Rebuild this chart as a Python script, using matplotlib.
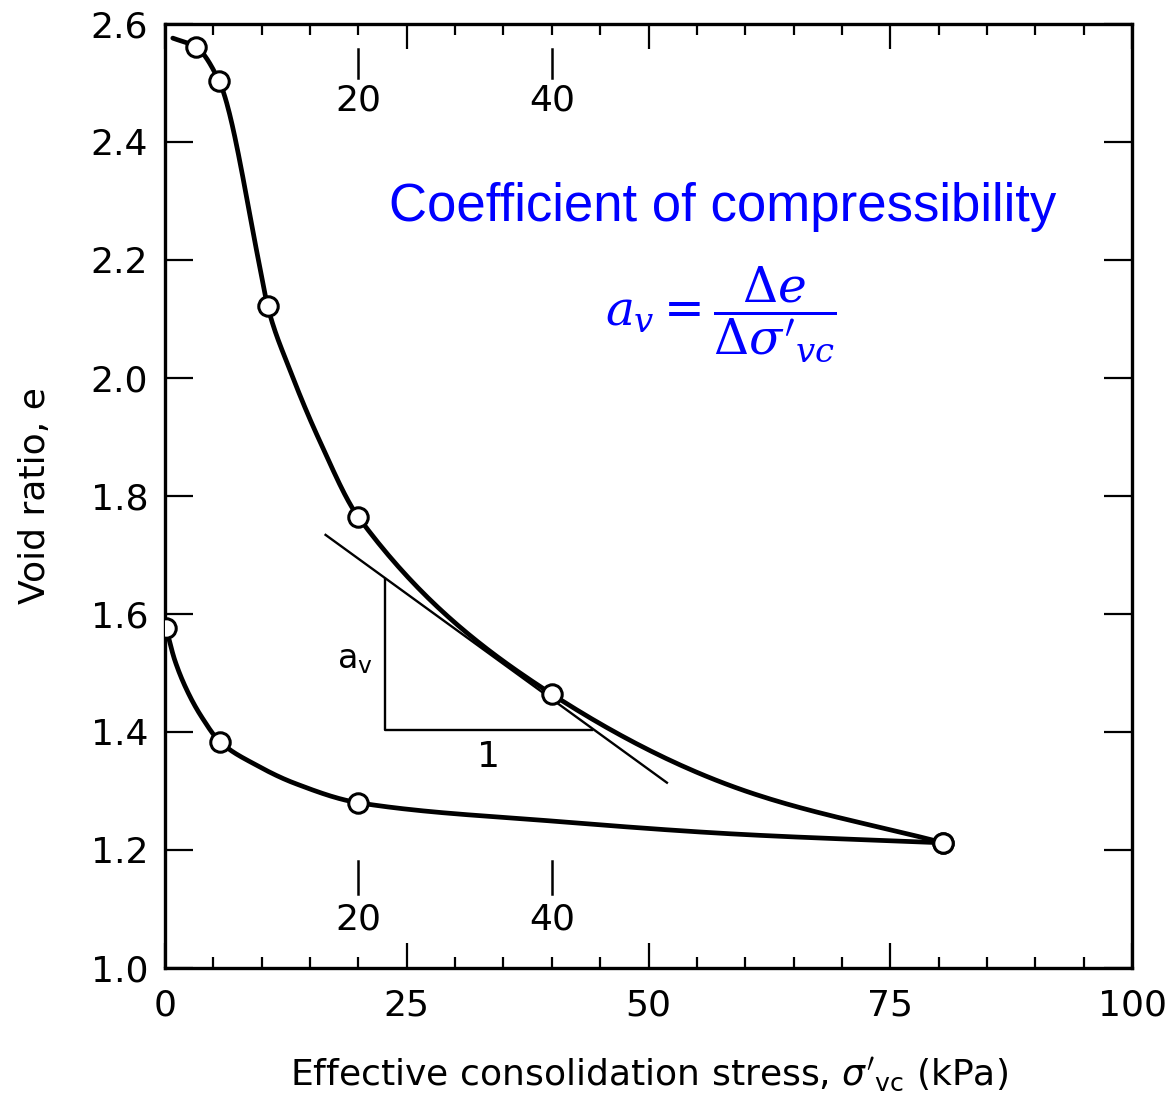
import numpy as np
import matplotlib.pyplot as plt

# ---------- data ----------
# measured points (open circles)
load_x = [3.2, 5.6, 10.6, 20.0, 40.0, 80.5]
load_e = [2.561, 2.503, 2.122, 1.764, 1.464, 1.212]
unload_x = [80.5, 20.0, 5.7, 0.1]
unload_e = [1.212, 1.280, 1.383, 1.577]

# hand-drawn curves traced through the points
load_trace_x = [0.8, 3.2, 5.6, 6.2, 9.8, 10.6, 13.0, 16.0, 20.0, 40.0, 60.0, 80.5]
load_trace_e = [2.576, 2.561, 2.503, 2.476, 2.188, 2.122, 2.010, 1.893, 1.764,
                1.464, 1.300, 1.212]
unload_trace_x = [0.1, 1.0, 2.4, 3.8, 5.7, 9.3, 13.4, 20.0, 40.0, 60.0, 80.5]
unload_trace_e = [1.577, 1.522, 1.466, 1.425, 1.383, 1.345, 1.313, 1.280,
                  1.249, 1.226, 1.212]

# tangent line at 40 kPa
tangent_x = [16.6, 51.9]
tangent_e = [1.734, 1.314]

# slope triangle corners
tri_x = [22.7, 22.7, 44.2]
tri_e = [1.660, 1.403, 1.403]

x_ticks = [0, 25, 50, 75, 100]
y_ticks = [1.0, 1.2, 1.4, 1.6, 1.8, 2.0, 2.2, 2.4, 2.6]
stress_marks = [20, 40]

BLUE = "#0000ff"
FONT = "DejaVu Sans"
FS = 26


def smooth_curve(xs, ys, n=40):
    """monotone cubic (Fritsch-Carlson) through the traced points, drawing only"""
    order = np.argsort(xs)
    x = np.asarray(xs, float)[order]
    y = np.asarray(ys, float)[order]
    h = np.diff(x)
    d = np.diff(y) / h
    m = np.zeros_like(x)
    m[0], m[-1] = d[0], d[-1]
    for k in range(1, len(x) - 1):
        if d[k - 1] * d[k] > 0:
            w1 = 2 * h[k] + h[k - 1]
            w2 = h[k] + 2 * h[k - 1]
            m[k] = (w1 + w2) / (w1 / d[k - 1] + w2 / d[k])
    xx, yy = [], []
    for k in range(len(x) - 1):
        t = np.linspace(0, 1, n)
        h00 = 2 * t**3 - 3 * t**2 + 1
        h10 = t**3 - 2 * t**2 + t
        h01 = -2 * t**3 + 3 * t**2
        h11 = t**3 - t**2
        xx.extend(x[k] + t * h[k])
        yy.extend(h00 * y[k] + h10 * h[k] * m[k] + h01 * y[k + 1] + h11 * h[k] * m[k + 1])
    return np.array(xx), np.array(yy)


plt.rcParams["mathtext.fontset"] = "dejavusans"

fig = plt.figure(figsize=(11.73, 11.09), dpi=100)
ax = fig.add_axes([0.1407, 0.1272, 0.8244, 0.8512])

# curves
lx, ly = smooth_curve(load_trace_x, load_trace_e)
ax.plot(lx, ly, color="black", lw=3.4, zorder=3, solid_capstyle="round")
ux, uy = smooth_curve(unload_trace_x, unload_trace_e)
ax.plot(ux, uy, color="black", lw=3.4, zorder=3, solid_capstyle="round")

ax.plot(load_x, load_e, "o", ms=14, mfc="white", mec="black", mew=2.2, zorder=5)
ax.plot(unload_x, unload_e, "o", ms=14, mfc="white", mec="black", mew=2.2, zorder=5)

# tangent and triangle
ax.plot(tangent_x, tangent_e, color="black", lw=1.7, zorder=2)
ax.plot(tri_x, tri_e, color="black", lw=1.7, zorder=2)
ax.text(19.6, 1.522, "a$_\\mathregular{v}$", fontsize=24, family=FONT, ha="center", va="center")
ax.text(33.4, 1.358, "1", fontsize=FS, family=FONT, ha="center", va="center")

# stress marks at 20 and 40 kPa (top and bottom)
for s in stress_marks:
    ax.plot([s, s], [2.558, 2.508], color="black", lw=1.8)
    ax.text(s, 2.47, str(s), fontsize=FS, family=FONT, ha="center", va="center")
    ax.plot([s, s], [1.182, 1.125], color="black", lw=1.8)
    ax.text(s, 1.082, str(s), fontsize=FS, family=FONT, ha="center", va="center")

# annotation
ax.text(57.7, 2.29, "Coefficient of compressibility", color=BLUE, fontsize=38,
        family="Liberation Sans", ha="center", va="center")
ax.text(57.5, 2.108, r"$a_v = \dfrac{\Delta e}{\Delta \sigma'{}_{vc}}$", color=BLUE,
        fontsize=35, math_fontfamily="dejavuserif", ha="center", va="center")

# axes
ax.set_xlim(0, 100)
ax.set_ylim(1.0, 2.6)
ax.set_xticks(x_ticks)
ax.set_xticks(np.arange(0, 101, 5), minor=True)
ax.set_yticks(y_ticks)
ax.set_yticklabels([f"{v:.1f}" for v in y_ticks])
ax.tick_params(axis="both", which="both", direction="in", top=True, right=True,
               labelsize=FS, width=1.6)
ax.tick_params(axis="x", which="major", length=18, pad=15)
ax.tick_params(axis="x", which="minor", length=8)
ax.tick_params(axis="y", which="major", length=20, pad=12)
for lab in ax.get_xticklabels() + ax.get_yticklabels():
    lab.set_family(FONT)
for sp in ax.spines.values():
    sp.set_linewidth(2.4)

ax.set_xlabel(r"Effective consolidation stress, $\sigma'_{\mathregular{vc}}$ (kPa)",
              fontsize=FS, family=FONT, labelpad=24)
ax.set_ylabel("Void ratio, e", fontsize=FS, family=FONT, labelpad=28)

fig.savefig("out.png", dpi=100)
